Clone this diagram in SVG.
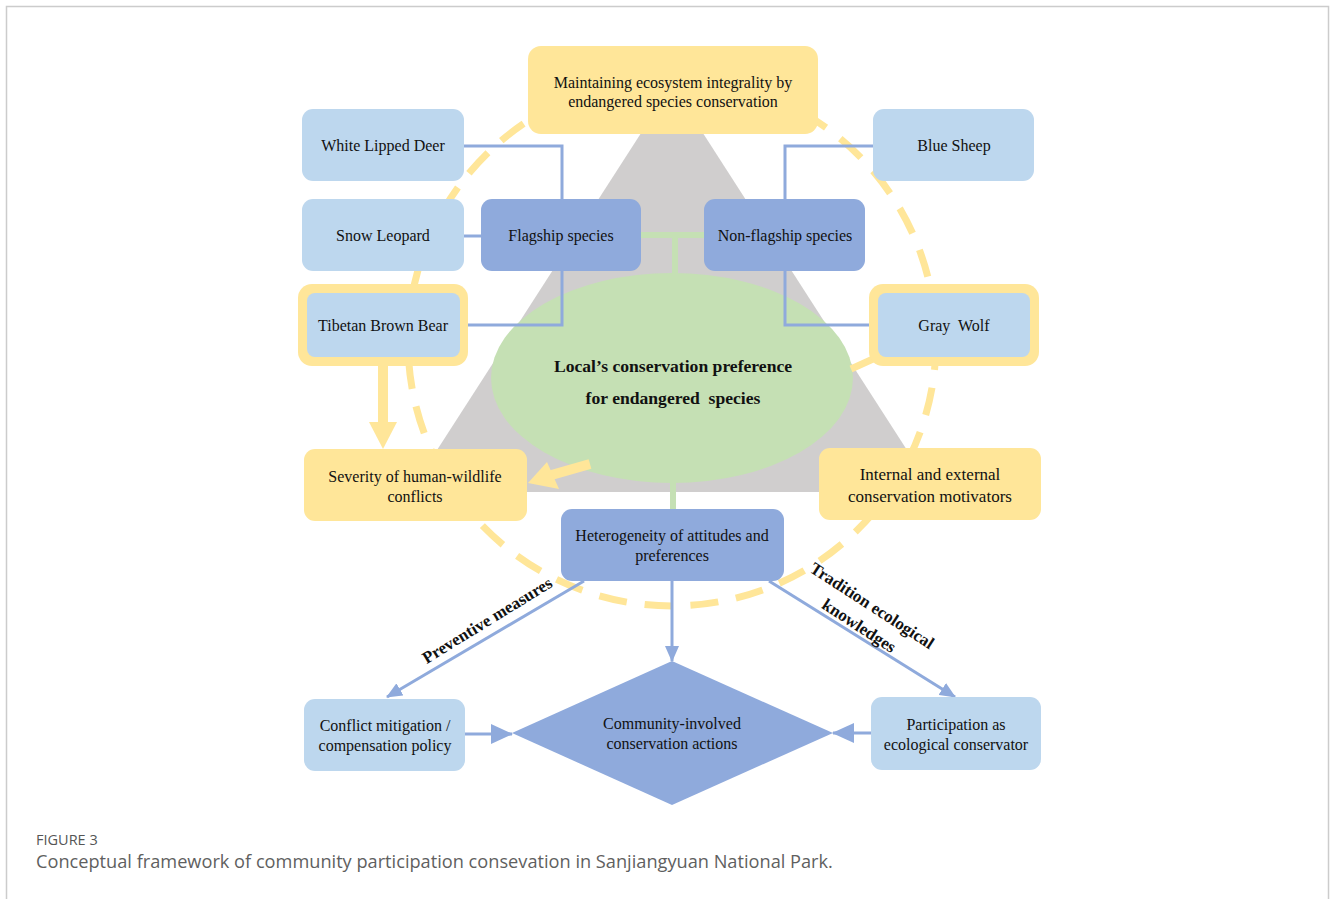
<svg xmlns="http://www.w3.org/2000/svg" width="1330" height="899" viewBox="0 0 1330 899">
<defs>
<style>
.t{font-family:"Liberation Serif","Times New Roman",serif;font-size:16px;fill:#111;text-anchor:middle}
.tb{font-family:"Liberation Serif","Times New Roman",serif;font-size:17px;font-weight:bold;fill:#111;text-anchor:middle}
.lb{fill:#bdd7ee}
.db{fill:#8faadc}
.yl{fill:#ffe699}
.cn{stroke:#8faadc;stroke-width:3;fill:none}
.gr{stroke:#c5e0b4;stroke-width:6;fill:none}
</style>
<marker id="ah" markerWidth="16" markerHeight="14" refX="15" refY="7" orient="auto" markerUnits="userSpaceOnUse"><path d="M0,0 L16,7 L0,14 z" fill="#8faadc"/></marker>
<marker id="ahb" markerWidth="22" markerHeight="20" refX="21" refY="10" orient="auto" markerUnits="userSpaceOnUse"><path d="M0,0 L22,10 L0,20 z" fill="#8faadc"/></marker>
</defs>
<rect x="0" y="0" width="1330" height="899" fill="#fff"/>
<rect x="6.5" y="6.5" width="1322" height="910" fill="none" stroke="#cccccc" stroke-width="1.5"/>

<g id="background">
<polygon points="672,85 934,492 410,492" fill="#d0cece"/>
<ellipse cx="672" cy="378" rx="181" ry="105" fill="#c5e0b4"/>
<circle cx="672" cy="342" r="264" fill="none" stroke="#ffe699" stroke-width="7" stroke-dasharray="28 18"/>
</g>

<g id="connectors">
<path class="gr" d="M641,235 H704 M675,235 V276"/>
<path class="gr" d="M673,481 V510"/>
<path class="cn" d="M464,146 H562 V199"/>
<path class="cn" d="M464,236 H481"/>
<path class="cn" d="M459,325 H562 V271"/>
<path class="cn" d="M873,146 H785 V199"/>
<path class="cn" d="M878,325 H785 V271"/>
<line class="cn" x1="584" y1="581" x2="387" y2="697" marker-end="url(#ah)"/>
<line class="cn" x1="672" y1="581" x2="672" y2="661" marker-end="url(#ah)"/>
<line class="cn" x1="769" y1="581" x2="955" y2="697" marker-end="url(#ah)"/>
<line class="cn" x1="465" y1="734" x2="512" y2="734" stroke-width="4" marker-end="url(#ahb)"/>
<line class="cn" x1="871" y1="733" x2="833" y2="733" stroke-width="4" marker-end="url(#ahb)"/>
<path d="M383,364 V424" stroke="#ffe699" stroke-width="10" fill="none"/>
<polygon points="369,422 397,422 383,449" fill="#ffe699"/>
<path d="M590,464 L548,476" stroke="#ffe699" stroke-width="10" fill="none"/>
<polygon points="528,483 547,462 559,489" fill="#ffe699"/>
<path d="M851,369 L873,359" stroke="#ffe699" stroke-width="7" fill="none"/>
<text class="tb" transform="translate(487,620) rotate(-31.6)" y="6">Preventive measures</text>
<g transform="translate(868,612) rotate(33)">
<text class="tb" y="-2">Tradition ecological</text>
<text class="tb" y="22">knowledges</text>
</g>
</g>

<g id="top">
<rect class="yl" x="528" y="46" width="290" height="88" rx="13"/>
<text class="t" x="673" y="88">Maintaining ecosystem integrality by</text>
<text class="t" x="673" y="107">endangered species conservation</text>
</g>
<g id="deer">
<rect class="lb" x="302" y="109" width="162" height="72" rx="11"/>
<text class="t" x="383" y="151">White Lipped Deer</text>
</g>
<g id="leopard">
<rect class="lb" x="302" y="199" width="162" height="72" rx="11"/>
<text class="t" x="383" y="241">Snow Leopard</text>
</g>
<g id="flagship">
<rect class="db" x="481" y="199" width="160" height="72" rx="11"/>
<text class="t" x="561" y="241">Flagship species</text>
</g>
<g id="nonflagship">
<rect class="db" x="704" y="199" width="161" height="72" rx="11"/>
<text class="t" x="785" y="241">Non-flagship species</text>
</g>
<g id="sheep">
<rect class="lb" x="873" y="109" width="161" height="72" rx="11"/>
<text class="t" x="954" y="151">Blue Sheep</text>
</g>
<g id="bear">
<rect class="yl" x="298" y="284" width="170" height="82" rx="14"/>
<rect class="lb" x="307" y="293" width="153" height="64" rx="8"/>
<text class="t" x="383" y="331">Tibetan Brown Bear</text>
</g>
<g id="wolf">
<rect class="yl" x="869" y="284" width="170" height="82" rx="14"/>
<rect class="lb" x="878" y="293" width="152" height="64" rx="8"/>
<text class="t" x="954" y="331" xml:space="preserve">Gray  Wolf</text>
</g>
<g id="local">
<text class="tb" x="673" y="372" style="font-size:17.6px">Local’s conservation preference</text>
<text class="tb" x="673" y="404" style="font-size:17.6px" xml:space="preserve">for endangered  species</text>
</g>
<g id="severity">
<rect class="yl" x="304" y="449" width="223" height="72" rx="11"/>
<text class="t" x="415" y="482">Severity of human-wildlife</text>
<text class="t" x="415" y="502">conflicts</text>
</g>
<g id="motivators">
<rect class="yl" x="819" y="448" width="222" height="72" rx="11"/>
<text class="t" x="930" y="480" style="font-size:17px">Internal and external</text>
<text class="t" x="930" y="502" style="font-size:17px">conservation motivators</text>
</g>
<g id="heterogeneity">
<rect class="db" x="561" y="509" width="223" height="72" rx="11"/>
<text class="t" x="672" y="541">Heterogeneity of attitudes and</text>
<text class="t" x="672" y="561">preferences</text>
</g>
<g id="conflict">
<rect class="lb" x="304" y="699" width="161" height="72" rx="11"/>
<text class="t" x="385" y="731">Conflict mitigation /</text>
<text class="t" x="385" y="751">compensation policy</text>
</g>
<g id="community">
<polygon class="db" points="672,661 833,733 672,805 512,733"/>
<text class="t" x="672" y="729">Community-involved</text>
<text class="t" x="672" y="749">conservation actions</text>
</g>
<g id="participation">
<rect class="lb" x="871" y="697" width="170" height="73" rx="11"/>
<text class="t" x="956" y="730">Participation as</text>
<text class="t" x="956" y="750">ecological conservator</text>
</g>

<g id="caption">
<text x="36" y="845" style="font-family:'Open Sans','Liberation Sans',sans-serif;font-size:14.5px;fill:#555">FIGURE 3</text>
<text x="36" y="868" style="font-family:'Open Sans','Liberation Sans',sans-serif;font-size:18.2px;fill:#5f5f5f">Conceptual framework of community participation consevation in Sanjiangyuan National Park.</text>
</g>
</svg>
